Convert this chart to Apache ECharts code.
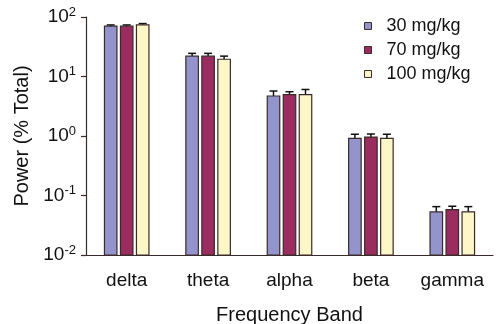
<!DOCTYPE html>
<html><head><meta charset="utf-8">
<script src="https://cdn.jsdelivr.net/npm/echarts@6/dist/echarts.min.js"></script>
<style>html,body{margin:0;padding:0;background:#fff}#c{width:498px;height:324px}</style>
</head><body><div id="c"></div>
<script>
const categories = ['delta', 'theta', 'alpha', 'beta', 'gamma'];
const seriesNames = ['30 mg/kg', '70 mg/kg', '100 mg/kg'];
const mean30 = [70, 22, 4.7, 0.91, 0.053];
const mean70 = [70, 22, 4.95, 0.96, 0.058];
const mean100 = [74, 19.5, 4.95, 0.91, 0.053];
const err30 = [3.5, 2.5, 1.0, 0.16, 0.012];
const err70 = [3.5, 2.5, 0.6, 0.12, 0.008];
const err100 = [3.5, 2.5, 1.1, 0.16, 0.012];
const yTicks = [0.01, 0.1, 1, 10, 100];
const yTickLabels = ['10{s|-2}', '10{s|-1}', '10{s|0}', '10{s|1}', '10{s|2}'];
const yMin = 0.01, yMax = 100;

const colors = ['#9494cc', '#9b2c5f', '#fdf7c8'];
const edge = '#3a2a2a';
const means = [mean30, mean70, mean100];
const errs = [err30, err70, err100];
const font = 'Liberation Sans, Arial, sans-serif';
const barW = 12.5;
const gapPx = 3.5;

const series = [];
means.forEach((m, i) => {
  series.push({
    name: seriesNames[i], type: 'custom', z: 2,
    itemStyle: { color: colors[i], borderColor: edge, borderWidth: 1 },
    data: m.map((v, j) => [j, v, v + errs[i][j]]),
    renderItem: function (params, api) {
      const base = api.coord([api.value(0), yMin]);
      const topV = api.coord([api.value(0), api.value(1)]);
      const topE = api.coord([api.value(0), api.value(2)]);
      const offset = (i - 1) * (barW + gapPx);
      const cx = base[0] + offset;
      return {
        type: 'group', children: [
          { type: 'line', z2: 1, shape: { x1: cx, y1: topV[1], x2: cx, y2: topE[1] }, style: { stroke: '#111', lineWidth: 1.5 } },
          { type: 'line', z2: 1, shape: { x1: cx - 4, y1: topE[1], x2: cx + 4, y2: topE[1] }, style: { stroke: '#111', lineWidth: 1.5 } },
          { type: 'rect', z2: 2, shape: { x: cx - barW / 2, y: topV[1], width: barW, height: base[1] - topV[1] },
            style: { fill: colors[i], stroke: edge, lineWidth: 1.2 } }
        ]
      };
    }
  });
});

const chart = echarts.init(document.getElementById('c'), null, { renderer: 'canvas' });
chart.setOption({
  animation: false,
  backgroundColor: '#fff',
  grid: { left: 86, right: 5, top: 17, bottom: 69, containLabel: false, outerBoundsMode: 'none' },
  legend: {
    data: seriesNames, orient: 'vertical', left: 359, top: 12, itemWidth: 7, itemHeight: 7, itemGap: 6,
    icon: 'rect',
    textStyle: { fontFamily: font, fontSize: 18, color: '#111', padding: [0, 0, 0, 10] },
    itemStyle: { borderColor: edge, borderWidth: 1 }
  },
  xAxis: {
    type: 'category', data: categories,
    axisLine: { lineStyle: { color: edge, width: 1.2 } },
    axisTick: { show: false },
    axisLabel: { fontFamily: font, fontSize: 19, color: '#111', margin: 16, interval: 0, hideOverlap: false },
    name: 'Frequency Band', nameLocation: 'middle', nameGap: 50,
    nameTextStyle: { fontFamily: font, fontSize: 20, color: '#111' }
  },
  yAxis: {
    type: 'log', logBase: 10, min: yMin, max: yMax,
    axisLine: { show: true, lineStyle: { color: edge, width: 1.2 } },
    axisTick: { show: true, length: 5, lineStyle: { color: edge, width: 1.2 } },
    minorTick: { show: false },
    splitLine: { show: false },
    axisLabel: {
      margin: 10, color: '#111', fontFamily: font, fontSize: 19,
      formatter: function (v) {
        const idx = yTicks.findIndex(t => Math.abs(Math.log10(t) - Math.log10(v)) < 1e-6);
        return idx >= 0 ? yTickLabels[idx] : '';
      },
      rich: { s: { fontSize: 13, verticalAlign: 'top', padding: [0, 0, 10, 0], fontFamily: font, color: '#111' } }
    },
    name: 'Power (% Total)', nameLocation: 'middle', nameGap: 54, nameRotate: 90,
    nameTextStyle: { fontFamily: font, fontSize: 20, color: '#111' }
  },
  series: series
});
</script></body></html>
